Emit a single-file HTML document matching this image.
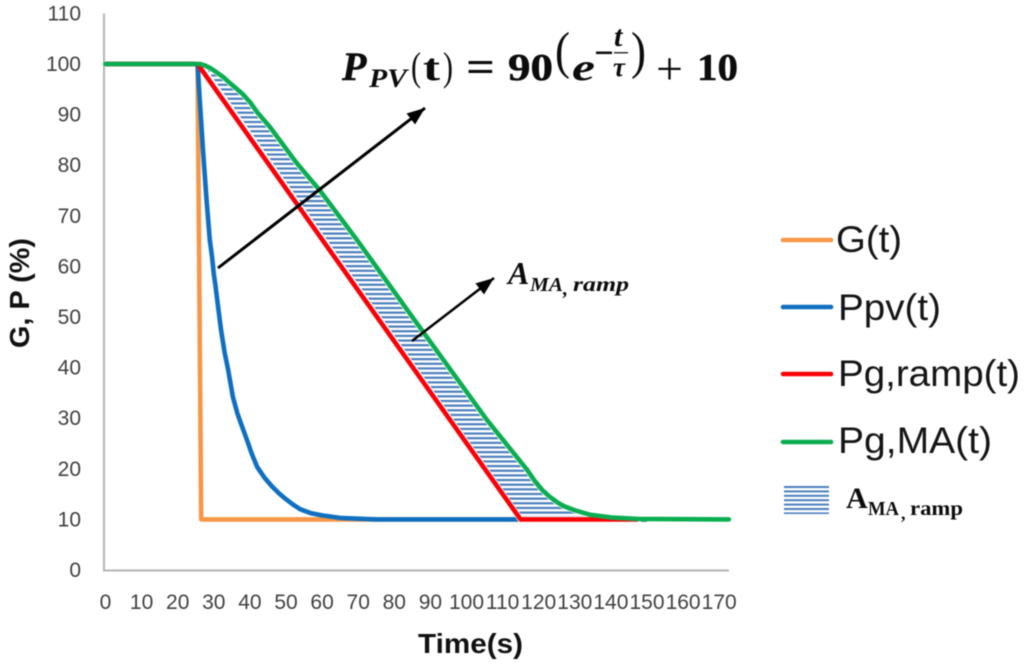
<!DOCTYPE html>
<html lang="en">
<head>
<meta charset="utf-8">
<title>G, P versus time chart</title>
<style>
html,body{margin:0;padding:0;background:#fff;width:1024px;height:667px;overflow:hidden}
svg{display:block;filter:blur(0.45px)}
text{font-family:"Liberation Sans",sans-serif}
.serif{font-family:"Liberation Serif",serif;font-weight:bold;fill:#0c0c0c}
.tick{font-size:21px;fill:#404040}
.leg{font-size:37px;fill:#151515}
.axt{font-size:28px;font-weight:bold;fill:#111}
</style>
</head>
<body>
<svg id="chart" width="1024" height="667" viewBox="0 0 1024 667" xmlns="http://www.w3.org/2000/svg">
<defs>
<pattern id="hatch" patternUnits="userSpaceOnUse" width="10" height="4.65">
<rect width="10" height="2.2" fill="#4a7ebd"/>
</pattern>
<pattern id="hatchLegend" patternUnits="userSpaceOnUse" width="10" height="4.4" y="486">
<rect width="10" height="2" fill="#4a7ebd"/>
</pattern>
<marker id="arrowHead" markerUnits="userSpaceOnUse" markerWidth="20" markerHeight="16" refX="18" refY="7" orient="auto">
<path d="M0,0 L18,7 L0,14 Z" fill="#000"/>
</marker>
</defs>

<line x1="104" y1="13.5" x2="104" y2="570.5" stroke="#b4b4b4" stroke-width="2"/>
<line x1="103" y1="570.5" x2="729" y2="570.5" stroke="#b4b4b4" stroke-width="2"/>
<g id="yTicks"></g>
<g id="xTicks"></g>

<text class="axt" transform="translate(29,348) rotate(-90)" textLength="110" lengthAdjust="spacingAndGlyphs">G, P (%)</text>
<text class="axt" x="418" y="653" textLength="105" lengthAdjust="spacingAndGlyphs">Time(s)</text>

<path id="serG" fill="none" stroke="#f79646" stroke-width="4.6" stroke-linejoin="round"/>
<path id="serPv" fill="none" stroke="#0f6fc0" stroke-width="4.6" stroke-linejoin="round"/>
<path id="areaHatch" fill="url(#hatch)" stroke="#fff" stroke-width="6"/>
<path id="serRamp" fill="none" stroke="#fb0007" stroke-width="4.6" stroke-linejoin="round"/>
<path id="serMa" fill="none" stroke="#0aae50" stroke-width="4.6" stroke-linejoin="round" stroke-linecap="round"/>

<line x1="218" y1="268" x2="425" y2="108" stroke="#000" stroke-width="3" marker-end="url(#arrowHead)"/>
<line x1="412" y1="341" x2="494" y2="278" stroke="#000" stroke-width="2.5" marker-end="url(#arrowHead)"/>

<g class="serif">
<text class="serif" x="342" y="80" font-size="40" font-style="italic" stroke="#0c0c0c" stroke-width="0.5">P</text>
<text class="serif" x="369" y="87" font-size="26" font-style="italic" textLength="38" lengthAdjust="spacingAndGlyphs">PV</text>
<text class="serif" x="411" y="80" font-size="40" style="font-weight:normal" textLength="10" lengthAdjust="spacingAndGlyphs">(</text>
<text class="serif" x="423" y="80" font-size="38" textLength="17" lengthAdjust="spacingAndGlyphs">t</text>
<text class="serif" x="443" y="80" font-size="40" style="font-weight:normal" textLength="10" lengthAdjust="spacingAndGlyphs">)</text>
<text class="serif" x="466" y="82" font-size="44" textLength="29" lengthAdjust="spacingAndGlyphs">=</text>
<text class="serif" x="508" y="80" font-size="38" textLength="45" lengthAdjust="spacingAndGlyphs" stroke="#0c0c0c" stroke-width="0.5">90</text>
<text class="serif" x="555" y="68" font-size="52" style="font-weight:normal" textLength="15" lengthAdjust="spacingAndGlyphs">(</text>
<text class="serif" x="572" y="80" font-size="38" font-style="italic" textLength="23" lengthAdjust="spacingAndGlyphs">e</text>
<rect x="596" y="51.5" width="16" height="2.6" fill="#111"/>
<text class="serif" x="614" y="46" font-size="30" font-style="italic">t</text>
<rect x="614" y="52" width="14" height="1.5" fill="#333"/>
<text class="serif" x="613" y="76" font-size="27" font-style="italic">τ</text>
<text class="serif" x="631" y="68" font-size="52" style="font-weight:normal" textLength="15" lengthAdjust="spacingAndGlyphs">)</text>
<text class="serif" x="656" y="84" font-size="46" style="font-weight:normal" textLength="27" lengthAdjust="spacingAndGlyphs">+</text>
<text class="serif" x="697" y="80" font-size="38" textLength="41" lengthAdjust="spacingAndGlyphs" stroke="#0c0c0c" stroke-width="0.5">10</text>
</g>

<g>
<text class="serif" x="508" y="284" font-size="32" font-style="italic">A</text>
<text class="serif" x="530" y="291" font-size="20" font-style="italic" textLength="33" lengthAdjust="spacingAndGlyphs">MA</text>
<text class="serif" x="563" y="295" font-size="20" font-style="italic">,</text>
<text class="serif" x="573" y="291" font-size="20" font-style="italic" textLength="56" lengthAdjust="spacingAndGlyphs">ramp</text>
</g>

<g>
<g>
<line x1="783" y1="240" x2="831" y2="240" stroke="#f79646" stroke-width="4.6" stroke-linecap="round"/>
<text class="leg" x="836" y="252" textLength="66" lengthAdjust="spacingAndGlyphs">G(t)</text>
</g>
<g>
<line x1="783" y1="307" x2="831" y2="307" stroke="#0f6fc0" stroke-width="4.6" stroke-linecap="round"/>
<text class="leg" x="838" y="320" textLength="103" lengthAdjust="spacingAndGlyphs">Ppv(t)</text>
</g>
<g>
<line x1="783" y1="374" x2="831" y2="374" stroke="#fb0007" stroke-width="4.6" stroke-linecap="round"/>
<text class="leg" x="838" y="386" textLength="182" lengthAdjust="spacingAndGlyphs">Pg,ramp(t)</text>
</g>
<g>
<line x1="783" y1="442" x2="831" y2="442" stroke="#0aae50" stroke-width="4.6" stroke-linecap="round"/>
<text class="leg" x="838" y="453" textLength="154" lengthAdjust="spacingAndGlyphs">Pg,MA(t)</text>
</g>
<g>
<rect x="784" y="486" width="45" height="28" fill="url(#hatchLegend)"/>
<text class="serif" x="846" y="508" font-size="30">A</text>
<text class="serif" x="868" y="515" font-size="20" textLength="31" lengthAdjust="spacingAndGlyphs">MA</text>
<text class="serif" x="901" y="519" font-size="18">,</text>
<text class="serif" x="910" y="515" font-size="20" textLength="53" lengthAdjust="spacingAndGlyphs">ramp</text>
</g>
</g>
</svg>

<script>
const yTickLabels = [0, 10, 20, 30, 40, 50, 60, 70, 80, 90, 100, 110];
const xTickLabels = [0, 10, 20, 30, 40, 50, 60, 70, 80, 90, 100, 110, 120, 130, 140, 150, 160, 170];

const gTime = [0, 25.5, 26.5, 150];
const gValues = [100, 100, 10, 10];

const pvTime = [0, 25.5, 26, 26.5, 27, 27.5, 28, 28.9, 29.5, 30, 30.5, 31.2, 32, 33, 34, 35.3, 36.5, 37.5, 39.2, 40.5, 42, 44, 46, 48, 50, 52, 54, 57, 60, 65, 75, 150];
const pvValues = [100, 100, 94, 88.5, 83, 78, 73, 65.2, 62, 58.5, 56, 52, 47.5, 43, 39.5, 34.2, 31, 29, 25.7, 23, 20.4, 18.3, 16.6, 15.2, 14, 12.9, 12, 11.2, 10.8, 10.3, 10, 10];

const rampTime = [0, 25.5, 115, 147.5];
const rampValues = [100, 100, 10, 10];

const maTime = [0, 25.3, 26.2, 27.5, 29, 30.5, 32.5, 34.5, 36, 38.1, 40, 42, 45.6, 53, 59.4, 69.7, 85, 105.7, 116.8, 119, 121, 123, 125.1, 127, 130, 134.3, 140, 147.5, 172.7];
const maValues = [100, 100, 100, 99.7, 99.2, 98.5, 97.5, 96.2, 95.3, 94, 92.5, 90.5, 87.5, 80.4, 75, 65.2, 50, 29.6, 19.8, 17.5, 15.8, 14.5, 13.4, 12.6, 11.8, 10.9, 10.4, 10.1, 10];

const areaStart = 26;
const areaEnd = 147.5;

function xScale(t) { return 105.5 + 3.61 * t; }
function yScale(v) { return 570 - 5.06 * v; }
function pathFrom(times, values) {
  return times.map(function (t, i) {
    return (i ? 'L' : 'M') + xScale(t).toFixed(1) + ' ' + yScale(values[i]).toFixed(1);
  }).join(' ');
}
const svgNs = 'http://www.w3.org/2000/svg';

const yTicksGroup = document.getElementById('yTicks');
yTickLabels.forEach(function (v) {
  const el = document.createElementNS(svgNs, 'text');
  
  
  el.setAttribute('class', 'tick');
  el.setAttribute('x', 81);
  el.setAttribute('y', yScale(v) + 7);
  el.setAttribute('text-anchor', 'end');
  el.textContent = v;
  yTicksGroup.appendChild(el);
});

const xTicksGroup = document.getElementById('xTicks');
xTickLabels.forEach(function (v) {
  const el = document.createElementNS(svgNs, 'text');
  
  
  el.setAttribute('class', 'tick');
  el.setAttribute('x', xScale(v));
  el.setAttribute('y', 609);
  el.setAttribute('text-anchor', 'middle');
  el.textContent = v;
  xTicksGroup.appendChild(el);
});

document.getElementById('serG').setAttribute('d', pathFrom(gTime, gValues));
document.getElementById('serPv').setAttribute('d', pathFrom(pvTime, pvValues));
document.getElementById('serRamp').setAttribute('d', pathFrom(rampTime, rampValues));
document.getElementById('serMa').setAttribute('d', pathFrom(maTime, maValues));

const upper = maTime.map(function (t, i) { return [t, maValues[i]]; })
  .filter(function (p) { return p[0] >= areaStart && p[0] <= areaEnd; });
const lower = rampTime.map(function (t, i) { return [t, rampValues[i]]; })
  .filter(function (p) { return p[0] >= areaStart && p[0] <= areaEnd; });
const outline = upper.concat(lower.reverse());
document.getElementById('areaHatch').setAttribute('d', outline.map(function (p, i) {
  return (i ? 'L' : 'M') + xScale(p[0]).toFixed(1) + ' ' + yScale(p[1]).toFixed(1);
}).join(' ') + ' L' + xScale(areaStart).toFixed(1) + ' ' + yScale(rampValues[1]).toFixed(1) + ' Z');
</script>
</body>
</html>
